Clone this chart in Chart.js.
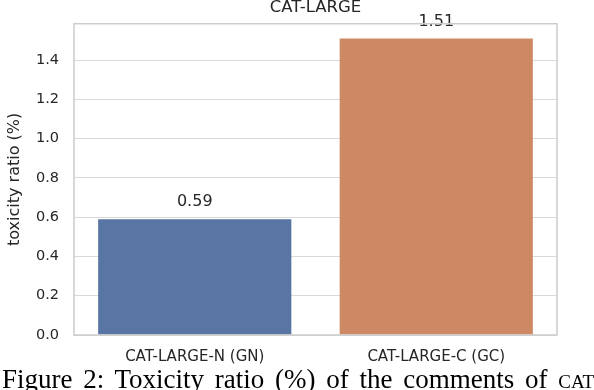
<!DOCTYPE html>
<html>
<head>
<meta charset="utf-8">
<script src="https://cdn.jsdelivr.net/npm/chart.js@4"></script>
<style>
    html, body { margin: 0; padding: 0; background: #fff; overflow: hidden; }
    #wrap { position: relative; width: 594px; height: 390px; overflow: hidden; }
    #caption {
        position: absolute; left: 2px; top: 366px;
        font-family: "Liberation Serif", serif; font-size: 27px; line-height: 27px;
        word-spacing: 4px; white-space: nowrap; color: #000;
    }
    .sc { font-variant: small-caps; }
</style>
</head>
<body>
<div id="wrap">
    <canvas id="toxicity-chart" width="594" height="390"></canvas>
    <div id="caption">Figure 2: Toxicity ratio (%) of the comments of <span class="sc">cat-large</span></div>
</div>
<script>
const categories = ['CAT-LARGE-N (GN)', 'CAT-LARGE-C (GC)'];
const toxicityRatio = [0.59, 1.51];
const barColors = ['#5975a4', '#cc8963'];
const chartTitle = 'CAT-LARGE';
const yAxisTitle = 'toxicity ratio (%)';
const yMax = 1.5855;

const textColor = '#262626';
const font = 'DejaVu Sans';

// value labels above bars
const valueLabels = {
    id: 'valueLabels',
    afterDatasetsDraw(chart) {
        const ctx = chart.ctx;
        const meta = chart.getDatasetMeta(0);
        ctx.save();
        ctx.font = '16px "' + font + '"';
        ctx.fillStyle = textColor;
        ctx.textAlign = 'center';
        ctx.textBaseline = 'middle';
        meta.data.forEach(function(bar, i) {
            ctx.fillText(toxicityRatio[i].toFixed(2), bar.x, bar.y - 17);
        });
        ctx.restore();
    }
};

// box around the plot area
const frame = {
    id: 'frame',
    afterDatasetsDraw(chart) {
        const a = chart.chartArea;
        const ctx = chart.ctx;
        ctx.save();
        ctx.strokeStyle = '#cccccc';
        ctx.lineWidth = 1.5;
        ctx.strokeRect(a.left, a.top, a.right - a.left, a.bottom - a.top);
        ctx.restore();
    }
};

const toxicity_chart = new Chart(
    document.getElementById('toxicity-chart').getContext('2d'),
    {
        type: 'bar',
        data: {
            labels: categories,
            datasets: [
                {
                    label: '',
                    data: toxicityRatio,
                    backgroundColor: barColors,
                    borderWidth: 0,
                    barPercentage: 0.8,
                    categoryPercentage: 1.0
                }
            ]
        },
        options: {
            responsive: false,
            animation: false,
            devicePixelRatio: 1,
            layout: {
                padding: { left: 0, right: 37, top: 0, bottom: 0 }
            },
            plugins: {
                legend: { display: false },
                tooltip: { enabled: false },
                title: {
                    display: true,
                    fullSize: false,
                    text: chartTitle,
                    color: textColor,
                    font: { family: font, size: 16.5, weight: 'normal', lineHeight: 0.85 },
                    padding: { top: 0, bottom: 9 }
                }
            },
            scales: {
                x: {
                    grid: { display: false, drawTicks: false },
                    border: { display: false },
                    ticks: {
                        color: textColor,
                        font: { family: font, size: 15 },
                        padding: 13,
                        maxRotation: 0
                    },
                    afterFit: function(scale) { scale.height = 55; }
                },
                y: {
                    min: 0,
                    max: yMax,
                    grid: { color: '#d9d9d9', lineWidth: 1, drawTicks: false },
                    border: { display: false },
                    ticks: {
                        stepSize: 0.2,
                        color: textColor,
                        font: { family: font, size: 14.5 },
                        padding: 15,
                        callback: function(v) { return v.toFixed(1); }
                    },
                    afterBuildTicks: function(scale) {
                        scale.ticks = scale.ticks.filter(function(t) {
                            return Math.abs(t.value * 5 - Math.round(t.value * 5)) < 1e-6;
                        });
                    },
                    title: {
                        display: true,
                        text: yAxisTitle,
                        color: textColor,
                        font: { family: font, size: 16 },
                        padding: { top: 5, bottom: 0 }
                    },
                    afterFit: function(scale) { scale.width = 74; }
                }
            }
        },
        plugins: [valueLabels, frame]
    }
);
</script>
</body>
</html>
